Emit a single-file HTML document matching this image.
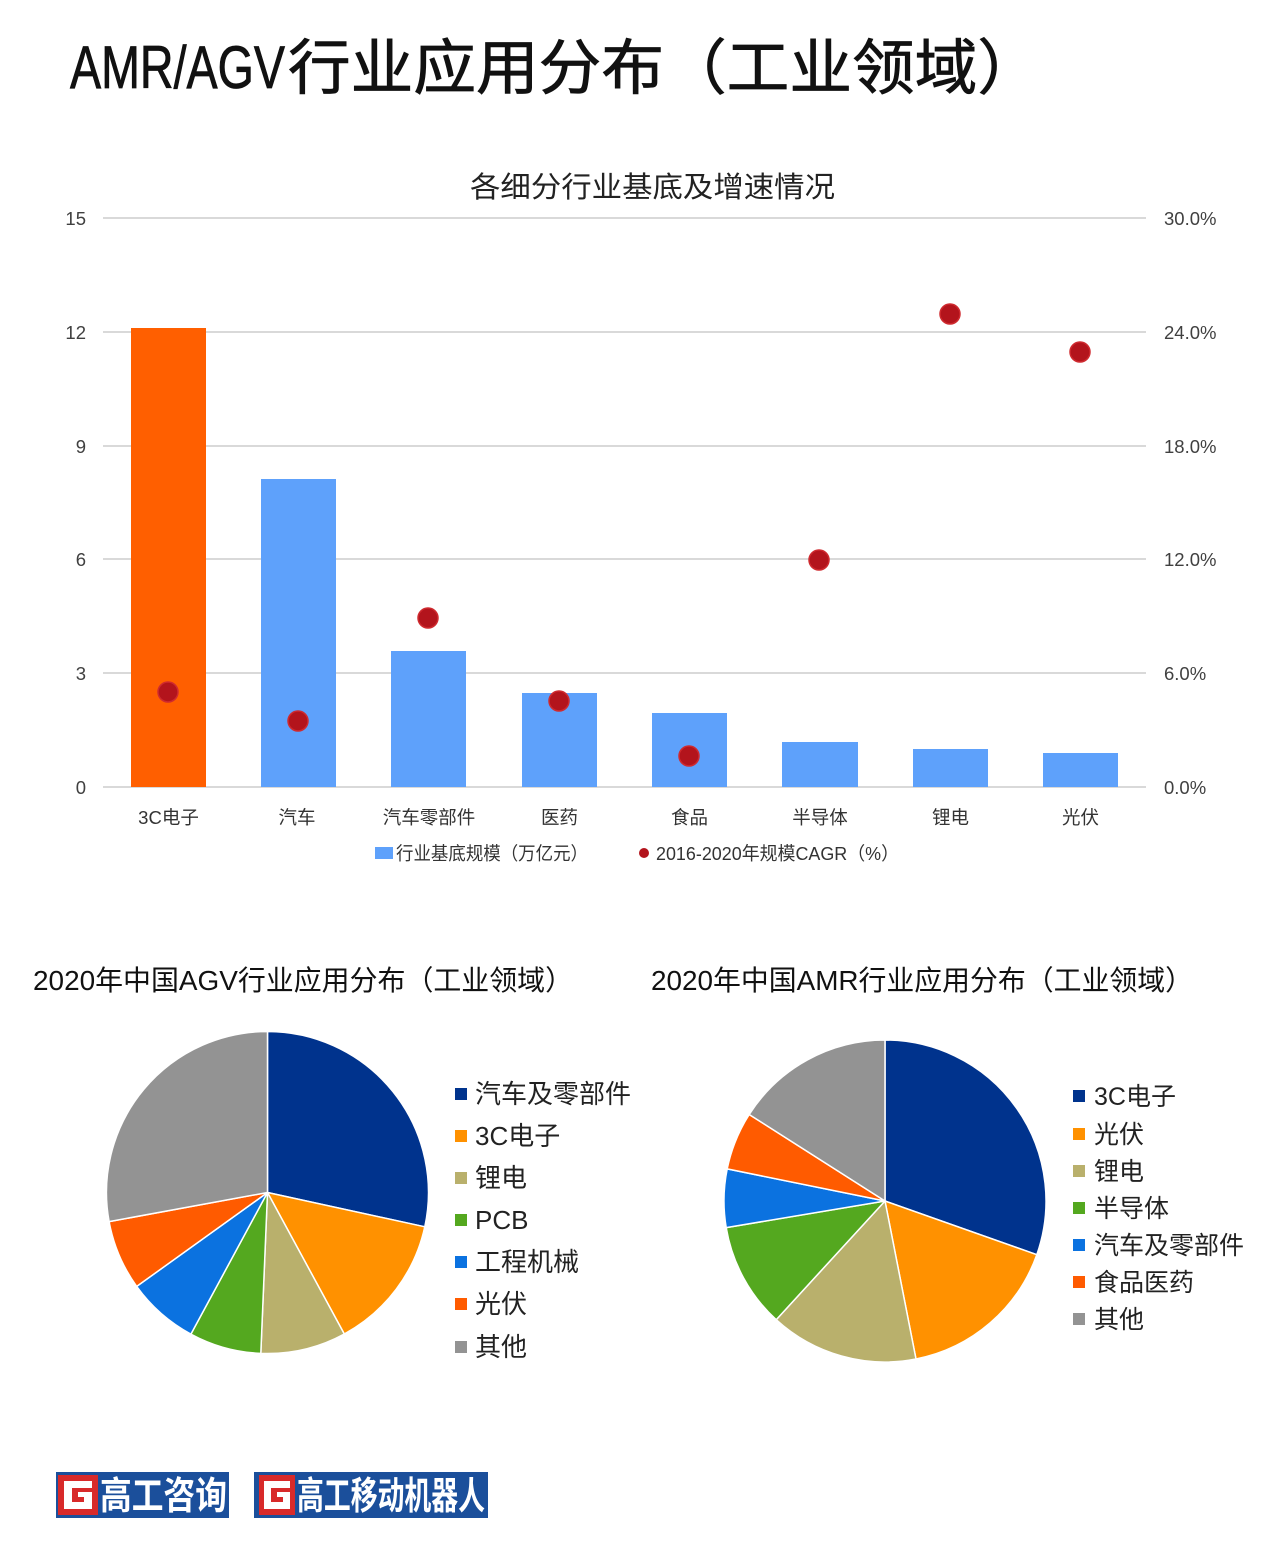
<!DOCTYPE html>
<html><head><meta charset="utf-8"><style>
html,body{margin:0;padding:0;background:#fff;}
svg{display:block;}
text{font-family:"Liberation Sans","Noto Sans CJK SC",sans-serif;}
</style></head><body>
<svg width="1280" height="1549" viewBox="0 0 1280 1549" xmlns="http://www.w3.org/2000/svg">
<rect width="1280" height="1549" fill="#fff"/>
<!-- main title -->
<text x="70" y="88" font-size="60" fill="#111" stroke="#111" stroke-width="0.8" textLength="215" lengthAdjust="spacingAndGlyphs">AMR/AGV</text>
<text x="288" y="89" font-size="60" fill="#111" stroke="#111" stroke-width="0.8" textLength="752" lengthAdjust="spacingAndGlyphs">行业应用分布（工业领域）</text>

<!-- chart title -->
<text x="470" y="197" font-size="29" fill="#222" textLength="365" lengthAdjust="spacingAndGlyphs">各细分行业基底及增速情况</text>

<!-- gridlines -->
<g stroke="#d9d9d9" stroke-width="2">
<line x1="103" y1="218" x2="1146" y2="218"/>
<line x1="103" y1="332" x2="1146" y2="332"/>
<line x1="103" y1="446" x2="1146" y2="446"/>
<line x1="103" y1="559" x2="1146" y2="559"/>
<line x1="103" y1="673" x2="1146" y2="673"/>
<line x1="103" y1="787" x2="1146" y2="787"/>
</g>
<!-- left axis labels -->
<g font-size="18.5" fill="#404040" text-anchor="end">
<text x="86" y="225">15</text>
<text x="86" y="339">12</text>
<text x="86" y="453">9</text>
<text x="86" y="566">6</text>
<text x="86" y="680">3</text>
<text x="86" y="794">0</text>
</g>
<!-- right axis labels -->
<g font-size="18.5" fill="#404040">
<text x="1164" y="225">30.0%</text>
<text x="1164" y="339">24.0%</text>
<text x="1164" y="453">18.0%</text>
<text x="1164" y="566">12.0%</text>
<text x="1164" y="680">6.0%</text>
<text x="1164" y="794">0.0%</text>
</g>
<!-- bars -->
<rect x="131" y="328" width="75" height="459" fill="#ff5f00"/>
<g fill="#5ea1fb">
<rect x="261" y="479" width="75" height="308"/>
<rect x="391" y="651" width="75" height="136"/>
<rect x="522" y="693" width="75" height="94"/>
<rect x="652" y="713" width="75" height="74"/>
<rect x="782" y="742" width="76" height="45"/>
<rect x="913" y="749" width="75" height="38"/>
<rect x="1043" y="753" width="75" height="34"/>
</g>
<!-- dots -->
<g fill="#b3141c" stroke="#cf2a2f" stroke-width="1.5">
<circle cx="168" cy="692" r="10"/>
<circle cx="298" cy="721" r="10"/>
<circle cx="428" cy="618" r="10"/>
<circle cx="559" cy="701" r="10"/>
<circle cx="689" cy="756" r="10"/>
<circle cx="819" cy="560" r="10"/>
<circle cx="950" cy="314" r="10"/>
<circle cx="1080" cy="352" r="10"/>
</g>
<!-- category labels -->
<g font-size="18.5" fill="#333" text-anchor="middle">
<text x="168.5" y="824">3C电子</text>
<text x="297" y="824">汽车</text>
<text x="429" y="824">汽车零部件</text>
<text x="559.5" y="824">医药</text>
<text x="689.5" y="824">食品</text>
<text x="820" y="824">半导体</text>
<text x="950.5" y="824">锂电</text>
<text x="1080.5" y="824">光伏</text>
</g>
<!-- legend -->
<rect x="375" y="847" width="18" height="12" fill="#5ea1fb"/>
<text x="396" y="860" font-size="18.5" fill="#333" textLength="192" lengthAdjust="spacingAndGlyphs">行业基底规模（万亿元）</text>
<circle cx="644" cy="853" r="5" fill="#b3141c"/>
<text x="656" y="860" font-size="18.5" fill="#333" textLength="243" lengthAdjust="spacingAndGlyphs">2016-2020年规模CAGR（%）</text>

<!-- pie titles -->
<text x="33" y="990" font-size="28" fill="#111" textLength="540" lengthAdjust="spacingAndGlyphs">2020年中国AGV行业应用分布（工业领域）</text>
<text x="651" y="990" font-size="28" fill="#111" textLength="542" lengthAdjust="spacingAndGlyphs">2020年中国AMR行业应用分布（工业领域）</text>

<!-- AGV pie -->
<g stroke="#fff" stroke-width="1.5" stroke-linejoin="round">
<path d="M267.5,1192.5 L267.5,1031.5 A161,161 0 0 1 424.8,1226.8 Z" fill="#00338d"/>
<path d="M267.5,1192.5 L424.8,1226.8 A161,161 0 0 1 344.3,1334.0 Z" fill="#ff9100"/>
<path d="M267.5,1192.5 L344.3,1334.0 A161,161 0 0 1 260.8,1353.4 Z" fill="#b9b06c"/>
<path d="M267.5,1192.5 L260.8,1353.4 A161,161 0 0 1 190.9,1334.1 Z" fill="#54a81f"/>
<path d="M267.5,1192.5 L190.9,1334.1 A161,161 0 0 1 136.7,1286.4 Z" fill="#0b72e0"/>
<path d="M267.5,1192.5 L136.7,1286.4 A161,161 0 0 1 109.1,1221.6 Z" fill="#ff5b00"/>
<path d="M267.5,1192.5 L109.1,1221.6 A161,161 0 0 1 267.5,1031.5 Z" fill="#939393"/>
</g>
<!-- AGV legend -->
<g font-size="26" fill="#222">
<rect x="455" y="1088" width="12" height="12" fill="#00338d"/><text x="475" y="1103">汽车及零部件</text>
<rect x="455" y="1130" width="12" height="12" fill="#ff9100"/><text x="475" y="1145">3C电子</text>
<rect x="455" y="1172" width="12" height="12" fill="#b9b06c"/><text x="475" y="1187">锂电</text>
<rect x="455" y="1214" width="12" height="12" fill="#54a81f"/><text x="475" y="1229">PCB</text>
<rect x="455" y="1256" width="12" height="12" fill="#0b72e0"/><text x="475" y="1271">工程机械</text>
<rect x="455" y="1298" width="12" height="12" fill="#ff5b00"/><text x="475" y="1313">光伏</text>
<rect x="455" y="1341" width="12" height="12" fill="#939393"/><text x="475" y="1356">其他</text>
</g>

<!-- AMR pie -->
<g stroke="#fff" stroke-width="1.5" stroke-linejoin="round">
<path d="M885,1201 L885,1040 A161,161 0 0 1 1036.8,1254.7 Z" fill="#00338d"/>
<path d="M885,1201 L1036.8,1254.7 A161,161 0 0 1 916.0,1359.0 Z" fill="#ff9100"/>
<path d="M885,1201 L916.0,1359.0 A161,161 0 0 1 776.2,1319.7 Z" fill="#b9b06c"/>
<path d="M885,1201 L776.2,1319.7 A161,161 0 0 1 726.2,1227.6 Z" fill="#54a81f"/>
<path d="M885,1201 L726.2,1227.6 A161,161 0 0 1 727.2,1168.9 Z" fill="#0b72e0"/>
<path d="M885,1201 L727.2,1168.9 A161,161 0 0 1 749.2,1114.5 Z" fill="#ff5b00"/>
<path d="M885,1201 L749.2,1114.5 A161,161 0 0 1 885,1040 Z" fill="#939393"/>
</g>
<!-- AMR legend -->
<g font-size="25" fill="#222">
<rect x="1073" y="1090" width="12" height="12" fill="#00338d"/><text x="1094" y="1105">3C电子</text>
<rect x="1073" y="1128" width="12" height="12" fill="#ff9100"/><text x="1094" y="1143">光伏</text>
<rect x="1073" y="1165" width="12" height="12" fill="#b9b06c"/><text x="1094" y="1180">锂电</text>
<rect x="1073" y="1202" width="12" height="12" fill="#54a81f"/><text x="1094" y="1217">半导体</text>
<rect x="1073" y="1239" width="12" height="12" fill="#0b72e0"/><text x="1094" y="1254">汽车及零部件</text>
<rect x="1073" y="1276" width="12" height="12" fill="#ff5b00"/><text x="1094" y="1291">食品医药</text>
<rect x="1073" y="1313" width="12" height="12" fill="#939393"/><text x="1094" y="1328">其他</text>
</g>

<!-- logos -->
<rect x="56" y="1472" width="173" height="46" fill="#1b4f9b"/>
<rect x="58" y="1475" width="40" height="40" fill="#d82a2a"/>
<path d="M64,1481 H92 V1488 H72 V1502 H84 V1497 H78 V1492 H92 V1509 H64 Z" fill="#fff"/>
<text x="100" y="1509" font-size="38" font-weight="bold" fill="#fff" textLength="127" lengthAdjust="spacingAndGlyphs">高工咨询</text>

<rect x="254" y="1472" width="234" height="46" fill="#1b4f9b"/>
<rect x="259" y="1475" width="36" height="40" fill="#d82a2a"/>
<path d="M264,1481 H290 V1488 H271 V1502 H283 V1497 H277 V1492 H290 V1509 H264 Z" fill="#fff"/>
<text x="297" y="1509" font-size="38" font-weight="bold" fill="#fff" textLength="188" lengthAdjust="spacingAndGlyphs">高工移动机器人</text>
</svg>
</body></html>
